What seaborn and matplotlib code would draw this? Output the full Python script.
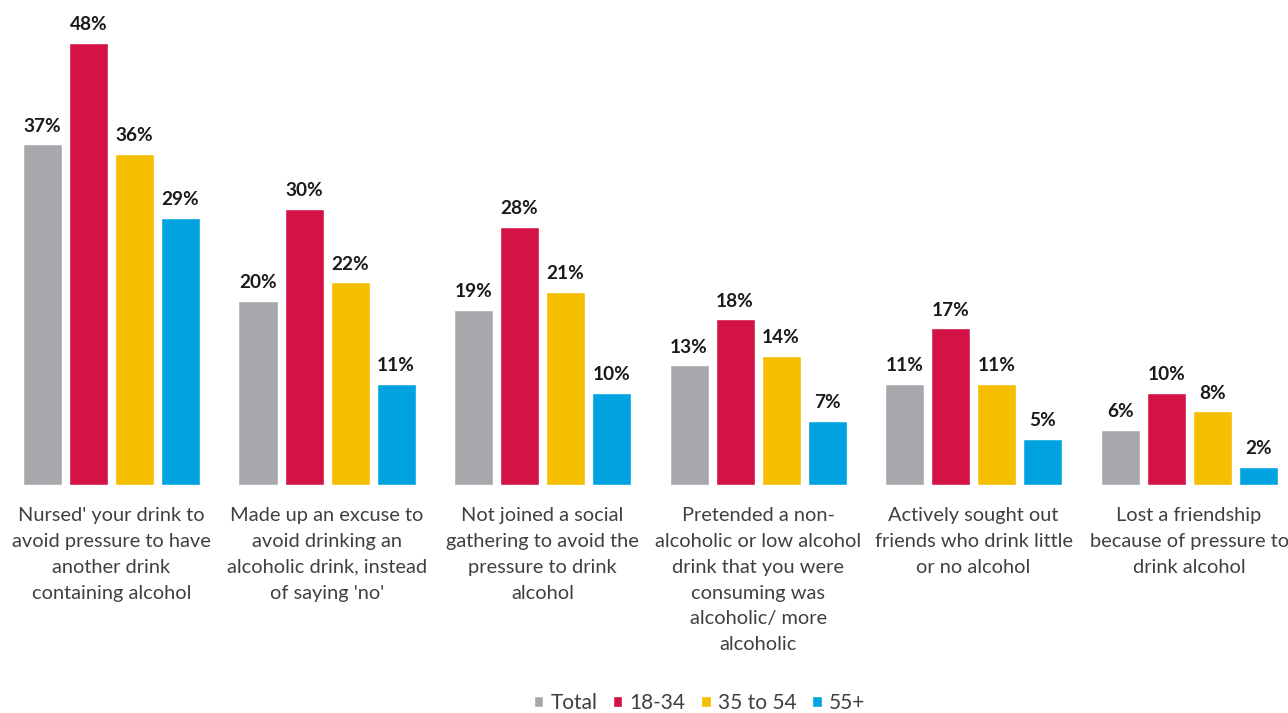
import numpy as np
import pandas as pd
import matplotlib
matplotlib.use("Agg")
import matplotlib.pyplot as plt
import seaborn as sns
from matplotlib.patches import Patch

categories = [
    "Nursed' your drink to\navoid pressure to have\nanother drink\ncontaining alcohol",
    "Made up an excuse to\navoid drinking an\nalcoholic drink, instead\nof saying 'no'",
    "Not joined a social\ngathering to avoid the\npressure to drink\nalcohol",
    "Pretended a non-\nalcoholic or low alcohol\ndrink that you were\nconsuming was\nalcoholic/ more\nalcoholic",
    "Actively sought out\nfriends who drink little\nor no alcohol",
    "Lost a friendship\nbecause of pressure to\ndrink alcohol",
]
groups = ["Total", "18-34", "35 to 54", "55+"]
total = [37, 20, 19, 13, 11, 6]
age_18_34 = [48, 30, 28, 18, 17, 10]
age_35_54 = [36, 22, 21, 14, 11, 8]
age_55 = [29, 11, 10, 7, 5, 2]

colors = ["#A7A8AC", "#D31245", "#F5BF00", "#00A3E0"]

rows = []
for g, vals in zip(groups, [total, age_18_34, age_35_54, age_55]):
    for c, v in zip(categories, vals):
        rows.append({"category": c, "group": g, "value": v})
df = pd.DataFrame(rows)

sns.set_style("white")
plt.rcParams['font.family'] = ['Lato', 'DejaVu Sans']

fig = plt.figure(figsize=(12.88, 7.13), dpi=100)
ax = fig.add_axes([0.0029, 0.3198, 1.004, 0.6457])

sns.barplot(data=df, x="category", y="value", hue="group", order=categories,
            hue_order=groups, palette=colors, width=0.854, gap=0.152,
            saturation=1, ax=ax, legend=False)

for cont in ax.containers:
    ax.bar_label(cont, labels=[f"{int(b.get_height())}%" for b in cont],
                 padding=7, fontsize=13.7, fontweight="bold", color="#1a1a1a")

ax.set_ylim(0, 50)
ax.set_xlim(-0.5, 5.5)
ax.set_xlabel("")
ax.set_ylabel("")
ax.set_yticks([])
ax.tick_params(axis="x", length=0, pad=16, labelsize=14.4, labelcolor="#404040")
for lbl in ax.get_xticklabels():
    lbl.set_linespacing(1.63)
    lbl.set_va("top")
sns.despine(ax=ax, left=True, bottom=True, top=True, right=True)

handles = [Patch(facecolor=c, label=g) for c, g in zip(colors, groups)]
fig.legend(handles=handles, loc="lower center", bbox_to_anchor=(0.543, -0.026),
           ncol=4, frameon=False, fontsize=15, handlelength=0.45, handleheight=0.45,
           handletextpad=0.35, columnspacing=0.75, labelcolor="#404040")

fig.savefig("out.png", dpi=100)
